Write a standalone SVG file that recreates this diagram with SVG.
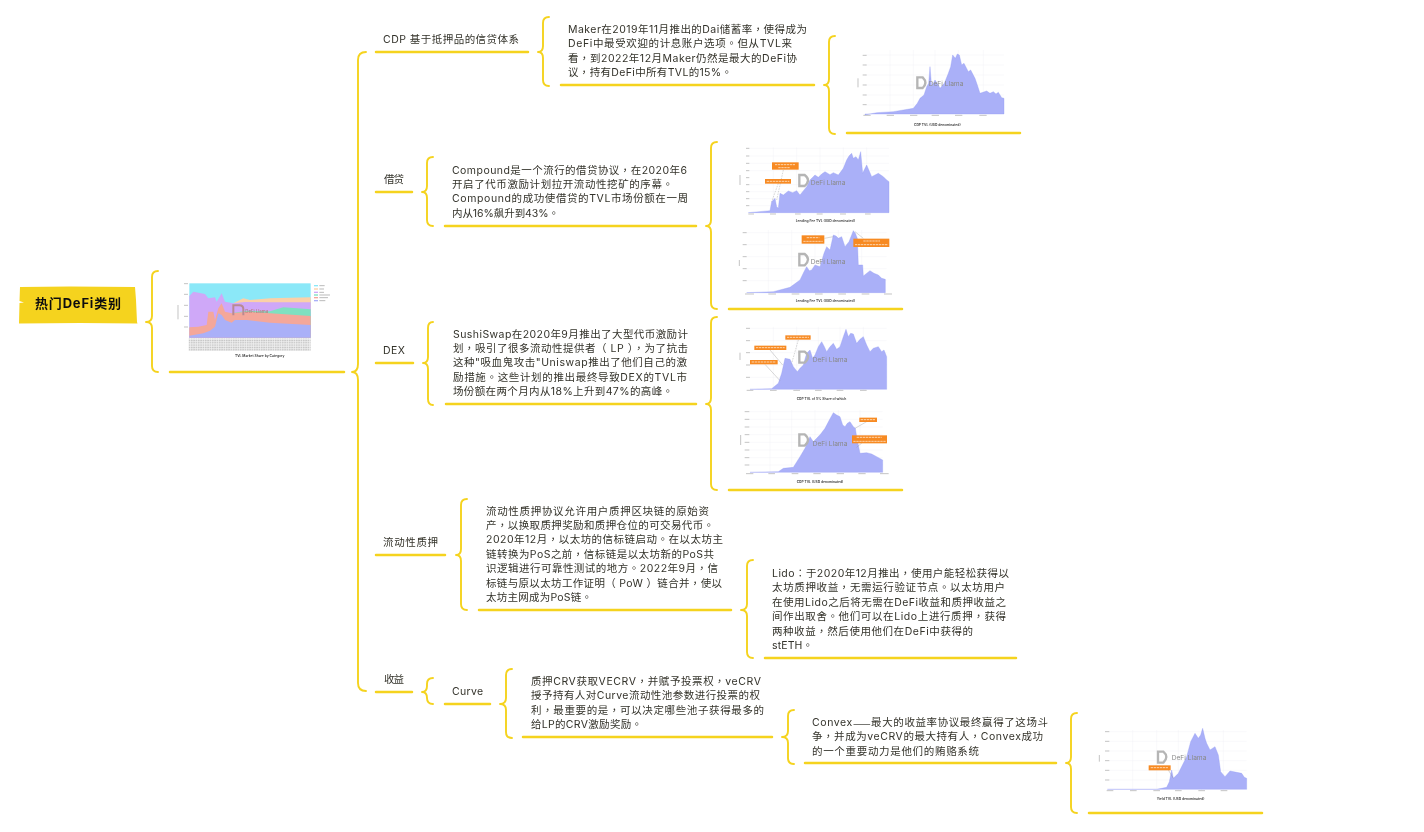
<svg xmlns="http://www.w3.org/2000/svg" width="1424" height="832" viewBox="0 0 1424 832">
<style>
text{font-family:"Inter","Noto Sans CJK TC","Noto Sans",sans-serif;font-size:10.5px;fill:#33322a;dominant-baseline:central;filter:url(#soft)}
.b{fill:none;stroke:#f5d31e;stroke-width:1.9;stroke-linecap:round;stroke-linejoin:round}
.u{fill:none;stroke:#f5d31e;stroke-width:2.5;stroke-linecap:round}
.r{fill:#f5d31e}
.area{fill:#aab0f8;stroke:#8f97f2;stroke-width:1}
.grid{stroke:#eeeef2;stroke-width:1;fill:none}
.c{fill:#f78a24}
.w{stroke:#fde3c8;stroke-width:2.500;fill:none;stroke-dasharray:7 2}
.ln{stroke:#888;stroke-width:1;fill:none}
.cap{font-size:10px;font-weight:600;fill:#333}
.wm{font-size:20px;fill:#8a8a8a}
.logo{fill:none;stroke:#b5b5b5;stroke-width:7}
.tick{stroke:#c4c4c4;stroke-width:3;fill:none}
</style>
<defs>
<filter id="soft" x="-5%" y="-20%" width="110%" height="140%"><feGaussianBlur stdDeviation=".2"/></filter>
<filter id="blur" x="-5%" y="-5%" width="110%" height="110%"><feGaussianBlur stdDeviation="1.1"/></filter>
<pattern id="hatch" width="7" height="7" patternUnits="userSpaceOnUse"><rect width="7" height="7" fill="#eee"/><rect width="5" height="2" fill="#bdbdbd"/><rect y="3.500" width="4" height="2" fill="#cfcfcf"/></pattern>
</defs>
<rect width="1424" height="832" fill="#fff"/>
<g id="connectors">
<path class="b" d="M158 271Q152 271 152 277V316Q152 322 146 322Q152 322 152 328V366Q152 372 158 372"/>
<path class="b" d="M366 52Q358 52 358 60V364Q358 372 352 372Q358 372 358 380V683Q358 691 366 691"/>
<path class="b" d="M549 17Q543 17 543 23V46Q543 52 538 52Q543 52 543 58V80Q543 86 549 86"/>
<path class="b" d="M835 36Q829 36 829 42V79Q829 85 824 85Q829 85 829 91V128Q829 134 835 134"/>
<path class="b" d="M433 157Q427 157 427 163V186Q427 192 422 192Q427 192 427 198V220Q427 226 433 226"/>
<path class="b" d="M717 142Q711 142 711 148V220Q711 226 706 226Q711 226 711 232V303Q711 309 717 309"/>
<path class="b" d="M433 322Q428 322 428 328V357Q428 363 423 363Q428 363 428 369V399Q428 405 433 405"/>
<path class="b" d="M717 317Q711 317 711 323V398Q711 404 706 404Q711 404 711 410V484Q711 490 717 490"/>
<path class="b" d="M467 499Q461 499 461 505V549Q461 555 456 555Q461 555 461 561V604Q461 610 467 610"/>
<path class="b" d="M753 560Q747 560 747 566V604Q747 610 741 610Q747 610 747 616V652Q747 658 753 658"/>
<path class="b" d="M433 678Q427 678 427 684V686Q427 692 422 692Q427 692 427 698V698Q427 704 433 704"/>
<path class="b" d="M512 669Q506 669 506 675V698Q506 704 500 704Q506 704 506 710V732Q506 738 512 738"/>
<path class="b" d="M794 710Q788 710 788 716V731Q788 737 782 737Q788 737 788 743V758Q788 764 794 764"/>
<path class="b" d="M1077 713Q1071 713 1071 719V757Q1071 763 1066 763Q1071 763 1071 769V807Q1071 813 1077 813"/>
</g>

<g id="root">
<path class="r" d="M20 287L70 286.500L135 287L136 300L137 322L137.500 323.500L80 323L19 323.500L19.500 303L24 302.500L19.500 301Z"/>
<text x="35" y="303" textLength="86" style="font-size:13px;font-weight:700;fill:#111">热门DeFi类别</text>
</g>

<g id="chart-share">
<path class="u" d="M170 372L344 372"/>
<g transform="translate(170 270) scale(.33333)" filter="url(#blur)">
<rect x="58" y="40" width="364" height="163" fill="#8be8f8"/>
<path fill="#fbd0a8" d="M190 100L220 85L240 90L300 85L422 82V125H190Z"/>
<path fill="#cfa8f8" d="M58 78L70 65L105 72L115 85L135 82L140 95L155 70L165 95L190 100L225 96L300 97L422 97V203H58Z"/>
<path fill="#7fe0c0" d="M185 130L230 122L300 124L340 112L422 118V203H185Z"/>
<path fill="#f4a79a" d="M58 172L85 170L110 165L115 125L130 125L135 150L145 115L155 100L165 125L185 130L230 125L300 130L422 138V203H58Z"/>
<path fill="#aab0f8" d="M58 197L100 190L120 182L135 170L145 130L155 135L165 150L185 158L195 150L230 150L300 158L422 165V203H58Z"/>
<rect x="56" y="205" width="366" height="38" fill="url(#hatch)"/>
<path d="M190 136V106H208Q220 106 220 118V136" fill="none" stroke="#b88a92" stroke-width="6"/>
<text class="wm" x="226" y="124" style="font-size:13px;font-weight:600;fill:#b87f84">DeFi Llama</text>
<rect x="432" y="45" width="12" height="4" fill="#8be8f8"/>
<rect x="432" y="55" width="12" height="4" fill="#fbd0a8"/>
<rect x="432" y="65" width="12" height="4" fill="#cfa8f8"/>
<rect x="432" y="73" width="12" height="4" fill="#7fe0c0"/>
<rect x="432" y="81" width="12" height="4" fill="#f4a79a"/>
<rect x="432" y="90" width="12" height="4" fill="#aab0f8"/>
<path d="M448 47H464M448 57H462M448 67H462M448 75H480M448 83H474M448 92H466" stroke="#bbb" stroke-width="3"/>
<path class="tick" d="M42 41H54M42 73H54M42 106H54M42 139H54M42 171H54M24 105V148"/>
<text class="cap" x="195" y="257">TVL Market Share by Category</text>
</g>
</g>

<g id="cdp">
<text x="383" y="39" textLength="136">CDP 基于抵押品的信贷体系</text>
<path class="u" d="M376 52L528 52"/>
</g>
<g id="maker">
<text x="568" y="29" textLength="239">Maker在2019年11月推出的Dai储蓄率，使得成为</text>
<text x="568" y="43.500" textLength="224">DeFi中最受欢迎的计息账户选项。但从TVL来</text>
<text x="568" y="58" textLength="229">看，到2022年12月Maker仍然是最大的DeFi协</text>
<text x="568" y="72" textLength="164">议，持有DeFi中所有TVL的15%。</text>
<path class="u" d="M561 85L814 85"/>
</g>
<g id="chart-maker">
<path class="u" d="M847 133L1020 133"/>
<g transform="translate(700 30) scale(.33333)" filter="url(#blur)">
<path class="grid" d="M495 75H912M495 105H912M495 135H912M495 165H912M495 195H912M495 225H912M570 60V252M640 60V252M705 60V252M775 60V252M850 60V252"/>
<path class="area" d="M495 255L530 248L580 245L640 235L652 220L660 205L672 195L680 170L686 160L690 110L695 170L705 150L715 165L720 175L733 160L745 130L752 110L758 75L766 85L772 72L778 75L785 105L792 100L805 125L812 120L825 145L832 165L840 190L860 183L870 190L880 185L888 192L895 187L905 203L912 205V252H495Z"/>
<path class="logo" d="M652 142H668Q684 158 668 174H652Z"/>
<text class="wm" x="686" y="163">DeFi Llama</text>
<path class="tick" d="M488 76H500M488 105H500M488 135H500M488 165H500M488 195H500M488 224H500M474 145V172M490 256H512M560 256H582M630 256H652M695 256H717M765 256H787M838 256H860"/>
<text class="cap" x="642" y="284">CDP TVL (USD denominated)</text>
</g>
</g>

<g id="lending">
<text x="384" y="179" textLength="20">借贷</text>
<path class="u" d="M376 192L412 192"/>
</g>
<g id="compound">
<text x="452" y="170" textLength="235">Compound是一个流行的借贷协议，在2020年6</text>
<text x="452" y="184" textLength="221">开启了代币激励计划拉开流动性挖矿的序幕。</text>
<text x="452" y="198.500" textLength="236">Compound的成功使借贷的TVL市场份额在一周</text>
<text x="452" y="213" textLength="107">内从16%飙升到43%。</text>
<path class="u" d="M445 226L696 226"/>
</g>
<g id="chart-lending">
<path class="u" d="M729 309L902 309"/>
<g transform="translate(700 30) scale(.33333)" filter="url(#blur)">
<path class="grid" d="M145 355H567M145 378H567M145 400H567M145 422H567M145 464H567M145 485H567M145 506H567M145 527H567M220 352V548M290 352V548M360 352V548M430 352V548M500 352V548"/>
<path class="area" d="M145 548L210 542L215 515L225 505L230 530L235 535L240 490L250 495L265 483L278 488L290 482L300 495L320 470L330 450L345 435L355 442L365 432L375 425L390 434L400 428L415 435L430 415L440 390L447 378L455 370L460 385L468 380L475 390L482 365L488 430L495 415L500 405L515 440L525 435L535 430L550 440L560 450L567 455V548Z"/>
<path class="ln" stroke-dasharray="5 3" d="M250 420L230 510M235 460L215 515"/>
<rect class="c" x="216" y="397" width="80" height="22"/><rect class="c" x="195" y="447" width="78" height="14"/>
<path class="w" d="M225 404H285M235 413H270M200 454H268"/>
<path class="logo" d="M298 435H314Q334 450 314 468H298Z"/>
<text class="wm" x="332" y="458">DeFi Llama</text>
<path class="tick" d="M138 355H148M138 378H148M138 400H148M138 422H148M138 443H148M138 464H148M138 485H148M138 506H148M138 527H148M120 435V465M145 552H162M210 552H228M285 552H302M350 552H368M420 552H438M495 552H512"/>
<text class="cap" x="287" y="574">Lending Fee TVL (USD denominated)</text>
<path class="grid" d="M135 608H560M135 644H560M135 680H560M135 716H560M135 752H560M205 600V788M275 600V788M345 600V788M415 600V788M485 600V788"/>
<path class="area" d="M140 788L220 785L270 772L300 750L312 725L320 710L328 722L335 720L345 705L360 710L372 670L380 650L390 660L400 615L408 618L415 625L425 620L435 650L447 635L460 602L466 610L472 625L475 705L488 705L490 738L510 722L522 730L535 735L545 745L556 748V788Z"/>
<path class="ln" d="M373 625L400 620M465 605L490 625"/>
<rect class="c" x="305" y="616" width="68" height="25"/><rect class="c" x="460" y="626" width="108" height="25"/>
<path class="w" d="M320 623H358M310 634H368M490 633H540M465 644H562"/>
<path class="logo" d="M298 672H314Q334 688 314 706H298Z"/>
<text class="wm" x="332" y="696">DeFi Llama</text>
<path class="tick" d="M128 608H140M128 644H140M128 680H140M128 716H140M128 752H140M118 690V708M135 792H162M205 792H228M275 792H298M345 792H368M415 792H438M485 792H508M552 792H576"/>
<text class="cap" x="287" y="812">Lending Fee TVL (USD denominated)</text>
</g>
</g>

<g id="dex">
<text x="383" y="350" textLength="22">DEX</text>
<path class="u" d="M376 363L413 363"/>
</g>
<g id="sushi">
<text x="453" y="334" textLength="235">SushiSwap在2020年9月推出了大型代币激励计</text>
<text x="453" y="348" textLength="235">划，吸引了很多流动性提供者（ LP ），为了抗击</text>
<text x="453" y="362.500" textLength="234">这种"吸血鬼攻击"Uniswap推出了他们自己的激</text>
<text x="453" y="377" textLength="234">励措施。这些计划的推出最终导致DEX的TVL市</text>
<text x="453" y="391" textLength="220">场份额在两个月内从18%上升到47%的高峰。</text>
<path class="u" d="M446 404L696 404"/>
</g>
<g id="chart-dex">
<path class="u" d="M729 490L902 490"/>
<g transform="translate(700 310) scale(.33333)" filter="url(#blur)">
<path class="grid" d="M150 55H560M150 92H560M150 128H560M150 165H560M150 202H560M220 50V238M290 50V238M355 50V238M420 50V238M490 50V238"/>
<path class="area" d="M150 238L215 236L235 220L245 190L255 145L270 148L280 170L292 185L300 175L310 165L320 130L330 120L338 145L345 135L355 110L365 95L372 108L380 125L390 110L400 100L410 118L420 110L430 80L438 58L445 80L452 70L460 72L470 100L480 88L490 80L500 105L510 125L520 115L535 110L545 125L552 120L560 140V238Z"/>
<path class="ln" d="M210 120L248 165M195 163L240 212"/><path class="ln" stroke-dasharray="5 3" d="M295 90L275 160"/>
<rect class="c" x="163" y="107" width="96" height="13"/><rect class="c" x="150" y="150" width="83" height="13"/><rect class="c" x="256" y="76" width="76" height="13"/>
<path class="w" d="M168 113H254M155 156H228M261 82H327"/>
<path class="logo" d="M298 125H314Q334 140 314 158H298Z"/>
<text class="wm" x="338" y="150">DeFi Llama</text>
<path class="tick" d="M138 55H150M138 92H150M138 128H150M138 165H150M138 202H150M120 128V150M140 241H160M210 241H230M280 241H300M345 241H365M410 241H430M480 241H500"/>
<text class="cap" x="290" y="268">CDP TVL of 5% Share of which</text>
<path class="grid" d="M145 305H548M145 328H548M145 351H548M145 374H548M145 397H548M145 420H548M145 443H548M145 465H548M210 300V487M275 300V487M345 300V487M415 300V487M480 300V487"/>
<path class="area" d="M150 487L235 485L250 475L280 472L300 440L315 415L330 380L340 395L350 385L362 372L375 355L388 330L400 308L410 315L420 320L428 345L435 350L442 340L450 335L460 350L466 355L470 380L480 430L500 428L515 432L530 440L548 450V487Z"/>
<path class="ln" d="M500 335L465 355M490 395L470 412"/>
<rect class="c" x="478" y="323" width="53" height="13"/><rect class="c" x="456" y="376" width="105" height="24"/>
<path class="w" d="M482 329H527M470 382H545M460 394H558"/>
<path class="logo" d="M298 373H314Q334 390 314 407H298Z"/>
<text class="wm" x="338" y="402">DeFi Llama</text>
<path class="tick" d="M134 305H148M134 328H148M134 351H148M134 374H148M134 397H148M134 420H148M134 443H148M134 465H148M122 375V405M138 491H160M205 491H225M275 491H295M340 491H362M410 491H432M475 491H497M540 491H566"/>
<text class="cap" x="290" y="517">CDP TVL (USD denominated)</text>
</g>
</g>

<g id="staking">
<text x="383" y="542" textLength="55">流动性质押</text>
<path class="u" d="M376 555L445 555"/>
</g>
<g id="staking-text">
<text x="486" y="511" textLength="223">流动性质押协议允许用户质押区块链的原始资</text>
<text x="486" y="525" textLength="228">产，以换取质押奖励和质押仓位的可交易代币。</text>
<text x="486" y="539" textLength="237">2020年12月，以太坊的信标链启动。在以太坊主</text>
<text x="486" y="554" textLength="228">链转换为PoS之前，信标链是以太坊新的PoS共</text>
<text x="486" y="568" textLength="232">识逻辑进行可靠性测试的地方。2022年9月，信</text>
<text x="486" y="583" textLength="236">标链与原以太坊工作证明（ PoW ）链合并，使以</text>
<text x="486" y="597" textLength="106">太坊主网成为PoS链。</text>
<path class="u" d="M479 610L731 610"/>
</g>
<g id="lido">
<text x="772" y="573" textLength="237">Lido：于2020年12月推出，使用户能轻松获得以</text>
<text x="772" y="587" textLength="233">太坊质押收益，无需运行验证节点。以太坊用户</text>
<text x="772" y="602" textLength="234">在使用Lido之后将无需在DeFi收益和质押收益之</text>
<text x="772" y="616" textLength="234">间作出取舍。他们可以在Lido上进行质押，获得</text>
<text x="772" y="631" textLength="201">两种收益，然后使用他们在DeFi中获得的</text>
<text x="772" y="645" textLength="41">stETH。</text>
<path class="u" d="M765 658L1016 658"/>
</g>

<g id="yield">
<text x="384" y="679" textLength="20">收益</text>
<path class="u" d="M376 692L412 692"/>
</g>
<g id="curve">
<text x="452" y="691" textLength="31">Curve</text>
<path class="u" d="M445 704L490 704"/>
</g>
<g id="curve-text">
<text x="531" y="681" textLength="230">质押CRV获取VECRV，并赋予投票权，veCRV</text>
<text x="531" y="695" textLength="229">授予持有人对Curve流动性池参数进行投票的权</text>
<text x="531" y="710" textLength="233">利，最重要的是，可以决定哪些池子获得最多的</text>
<text x="531" y="724" textLength="111">给LP的CRV激励奖励。</text>
<path class="u" d="M523 737L772 737"/>
</g>
<g id="convex">
<text x="812" y="722" textLength="236">Convex<tspan style="font-family:'Noto Sans CJK TC',sans-serif">——</tspan>最大的收益率协议最终赢得了这场斗</text>
<text x="812" y="736.500" textLength="231">争，并成为veCRV的最大持有人，Convex成功</text>
<text x="812" y="751" textLength="167">的一个重要动力是他们的贿赂系统</text>
<path class="u" d="M805 763L1056 763"/>
</g>
<g id="chart-yield">
<path class="u" d="M1089 813L1262 813"/>
<g transform="translate(1050 700) scale(.33333)" filter="url(#blur)">
<path class="grid" d="M172 95H590M172 124H590M172 153H590M172 182H590M172 211H590M172 240H590M248 90V268M320 90V268M385 90V268M455 90V268M520 90V268"/>
<path class="area" d="M172 268L320 268L350 262L358 245L365 210L370 235L385 220L400 190L410 170L422 125L435 100L445 115L452 105L458 85L465 115L470 130L480 150L495 140L505 165L512 215L525 230L540 213L560 217L575 220L583 232L590 235V268Z"/>
<path class="ln" d="M355 210L370 235"/>
<rect class="c" x="296" y="196" width="66" height="15"/>
<path class="w" d="M302 203H356"/>
<path class="logo" d="M324 155H340Q358 170 340 188H324Z"/>
<text class="wm" x="365" y="173">DeFi Llama</text>
<path class="tick" d="M165 95H178M165 124H178M165 153H178M165 182H178M165 211H178M165 240H178M148 165V185M170 272H190M240 272H260M310 272H330M375 272H395M445 272H465M512 272H532"/>
<text class="cap" x="320" y="298">Yield TVL (USD denominated)</text>
</g>
</g>
</svg>
